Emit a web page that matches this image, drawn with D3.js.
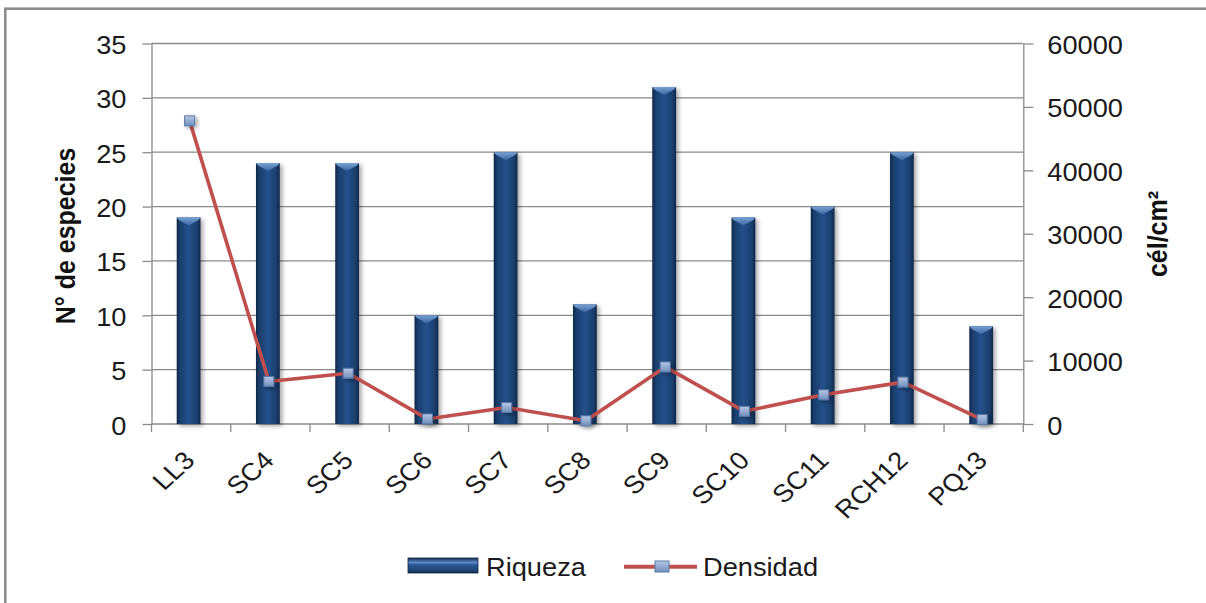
<!DOCTYPE html>
<html>
<head>
<meta charset="utf-8">
<script src="https://cdn.jsdelivr.net/npm/d3@7"></script>
<style>
  html, body { margin: 0; padding: 0; background: #fff; }
  svg { display: block; }
</style>
</head>
<body>
<svg id="chart" width="1206" height="603"></svg>
<script>
// Sampling stations
const categories = ["LL3", "SC4", "SC5", "SC6", "SC7", "SC8", "SC9", "SC10", "SC11", "RCH12", "PQ13"];
// Species richness (left axis)
const riqueza = [19, 24, 24, 10, 25, 11, 31, 19, 20, 25, 9];
// Cell density, cells per cm² (right axis)
const densidad = [47800, 6700, 8000, 800, 2600, 500, 9000, 2000, 4600, 6600, 700];
// Axis ticks
const leftTicks = [0, 5, 10, 15, 20, 25, 30, 35];
const rightTicks = [0, 10000, 20000, 30000, 40000, 50000, 60000];
const seriesNames = ["Riqueza", "Densidad"];
const leftTitle = "N° de especies";
const rightTitle = "cél/cm²";

const SX = 1.09;                      // horizontal text stretch
const FONT = "'Liberation Sans', Arial, sans-serif";
const plot = { left: 151.5, right: 1023.3, top: 43.5, bottom: 424 };
const GRID = "#8a8a8a";
const RED = "#c0504d";
const INK = "#1a1a1a";

const svg = d3.select("#chart");
const defs = svg.append("defs");

// Bar body: rounded cylinder-like shading
const bg = defs.append("linearGradient").attr("id", "barGrad").attr("x1", 0).attr("x2", 1).attr("y1", 0).attr("y2", 0);
[[0, "#0e2645"], [0.14, "#1a3e6c"], [0.5, "#24518b"], [0.86, "#1a3e6c"], [1, "#0e2645"]]
  .forEach(([o, c]) => bg.append("stop").attr("offset", o).attr("stop-color", c));

const cap = defs.append("linearGradient").attr("id", "capGrad").attr("x1", 0).attr("x2", 0).attr("y1", 0).attr("y2", 1);
[[0, "#7aa2d6"], [1, "#3a659f"]].forEach(([o, c]) => cap.append("stop").attr("offset", o).attr("stop-color", c));

const legGrad = defs.append("linearGradient").attr("id", "legGrad").attr("x1", 0).attr("x2", 0).attr("y1", 0).attr("y2", 1);
[[0, "#0f2a4d"], [0.3, "#5e8ac4"], [0.45, "#2a5a96"], [0.85, "#1c4274"], [1, "#0e2645"]]
  .forEach(([o, c]) => legGrad.append("stop").attr("offset", o).attr("stop-color", c));

const mk = defs.append("linearGradient").attr("id", "mkGrad").attr("x1", 0).attr("x2", 0).attr("y1", 0).attr("y2", 1);
[[0, "#b7c9e4"], [1, "#6f8dbd"]].forEach(([o, c]) => mk.append("stop").attr("offset", o).attr("stop-color", c));

const sh = defs.append("filter").attr("id", "shadow").attr("x", "-50%").attr("y", "-50%").attr("width", "200%").attr("height", "200%");
sh.append("feDropShadow").attr("dx", 2.5).attr("dy", 2).attr("stdDeviation", 2)
  .attr("flood-color", "#000").attr("flood-opacity", 0.35);

// Outer frame
svg.append("rect").attr("x", 0).attr("y", 0).attr("width", 1206).attr("height", 603).attr("fill", "#fff");
svg.append("rect").attr("x", 5.3).attr("y", 8.7).attr("width", 1220).attr("height", 620)
  .attr("fill", "#fff").attr("stroke", "#8c8c8c").attr("stroke-width", 2.6);

// Scales
const x = d3.scaleBand().domain(categories).range([plot.left, plot.right]);
const yL = d3.scaleLinear().domain([0, 35]).range([plot.bottom, plot.top]);
const yR = d3.scaleLinear().domain([0, 60000]).range([plot.bottom, plot.top]);
const cx = d => x(d) + x.bandwidth() / 2 - 1.5;

// Gridlines
svg.append("g").selectAll("line").data(leftTicks.filter(t => t > 0)).join("line")
  .attr("x1", plot.left).attr("x2", plot.right)
  .attr("y1", d => yL(d)).attr("y2", d => yL(d))
  .attr("stroke", GRID).attr("stroke-width", 1.3);

function styleAxis(g) {
  g.select(".domain").attr("stroke", GRID).attr("stroke-width", 1.3);
  g.selectAll(".tick line").attr("stroke", GRID).attr("stroke-width", 1.3);
  g.selectAll(".tick text").attr("fill", INK).style("font-family", FONT).style("font-size", "25px");
}

// Left axis
const gL = svg.append("g").attr("transform", `translate(${plot.left},0)`)
  .call(d3.axisLeft(yL).tickValues(leftTicks).tickFormat(d3.format("d"))
    .tickSize(9).tickSizeOuter(0).tickPadding(16));
styleAxis(gL);
gL.selectAll(".tick text").attr("x", null).attr("dy", "0.4em")
  .attr("transform", `translate(-25,0) scale(${SX},1)`);

// Right axis
const gR = svg.append("g").attr("transform", `translate(${plot.right},0)`)
  .call(d3.axisRight(yR).tickValues(rightTicks).tickFormat(d3.format("d"))
    .tickSize(10).tickSizeOuter(0).tickPadding(14));
styleAxis(gR);
gR.selectAll(".tick text").attr("x", null).attr("dy", "0.4em")
  .attr("transform", `translate(24,0) scale(${SX},1)`);

// Category axis: baseline, boundary ticks, rotated labels
const gX = svg.append("g");
gX.append("line").attr("x1", plot.left).attr("x2", plot.right)
  .attr("y1", plot.bottom).attr("y2", plot.bottom).attr("stroke", GRID).attr("stroke-width", 1.3);
const bounds = categories.map(c => x(c)).concat([x.range()[1]]);
gX.selectAll("line.tk").data(bounds).join("line").attr("class", "tk")
  .attr("x1", d => d).attr("x2", d => d)
  .attr("y1", plot.bottom).attr("y2", plot.bottom + 8)
  .attr("stroke", GRID).attr("stroke-width", 1.3);
gX.selectAll("text").data(categories).join("text")
  .attr("text-anchor", "end")
  .attr("transform", d => `translate(${x(d) + x.bandwidth() / 2 + 5},462) scale(${SX},1) rotate(-45)`)
  .attr("fill", INK).style("font-family", FONT).style("font-size", "25px")
  .text(d => d);

// Bars (Riqueza)
const bw = x.bandwidth() * 0.3;
const bars = svg.append("g").selectAll("g").data(categories.map((c, i) => ({ c, v: riqueza[i] }))).join("g");
bars.append("rect")
  .attr("x", d => cx(d.c) - 1 - bw / 2).attr("width", bw)
  .attr("y", d => yL(d.v)).attr("height", d => yL(0) - yL(d.v))
  .attr("fill", "url(#barGrad)").attr("filter", "url(#shadow)");
bars.append("path")
  .attr("d", d => {
    const x0 = cx(d.c) - 1 - bw / 2, x1 = x0 + bw, t = yL(d.v), m = (x0 + x1) / 2;
    return `M${x0},${t}L${x1},${t}L${x1 - 2},${t + 2.5}L${m},${t + 8}L${x0 + 2},${t + 2.5}Z`;
  })
  .attr("fill", "url(#capGrad)");

// Line (Densidad)
const pts = categories.map((c, i) => [cx(c), yR(densidad[i])]);
svg.append("path").attr("d", d3.line()(pts))
  .attr("fill", "none").attr("stroke", RED).attr("stroke-width", 3.6).attr("stroke-linejoin", "round");
svg.append("g").selectAll("rect").data(pts).join("rect")
  .attr("x", d => d[0] - 5).attr("y", d => d[1] - 5).attr("width", 10).attr("height", 10)
  .attr("fill", "url(#mkGrad)").attr("stroke", "#5a78a8").attr("stroke-width", 1)
  .attr("filter", "url(#shadow)");

// Axis titles
svg.append("text")
  .attr("transform", `translate(74.5,236) scale(${SX},1) rotate(-90)`)
  .attr("text-anchor", "middle").attr("fill", "#111")
  .style("font-family", FONT).style("font-size", "25px").style("font-weight", "bold")
  .text(leftTitle);
svg.append("text")
  .attr("transform", `translate(1167,234) scale(${SX},1) rotate(-90)`)
  .attr("text-anchor", "middle").attr("fill", "#111")
  .style("font-family", FONT).style("font-size", "25px").style("font-weight", "bold")
  .text(rightTitle);

// Legend
const lg = svg.append("g");
lg.append("rect").attr("x", 408).attr("y", 558).attr("width", 70).attr("height", 15)
  .attr("fill", "url(#legGrad)").attr("stroke", "#0e2645").attr("stroke-width", 0.8);
lg.append("text").attr("transform", `translate(486,576) scale(${SX},1)`)
  .attr("fill", INK).style("font-family", FONT).style("font-size", "25px").text(seriesNames[0]);
lg.append("line").attr("x1", 624).attr("x2", 697).attr("y1", 566.7).attr("y2", 566.7)
  .attr("stroke", RED).attr("stroke-width", 4);
lg.append("rect").attr("x", 655).attr("y", 561).attr("width", 14).attr("height", 11)
  .attr("fill", "url(#mkGrad)").attr("stroke", "#5a78a8").attr("stroke-width", 1);
lg.append("text").attr("transform", `translate(703,576) scale(${SX},1)`)
  .attr("fill", INK).style("font-family", FONT).style("font-size", "25px").text(seriesNames[1]);
</script>
</body>
</html>
